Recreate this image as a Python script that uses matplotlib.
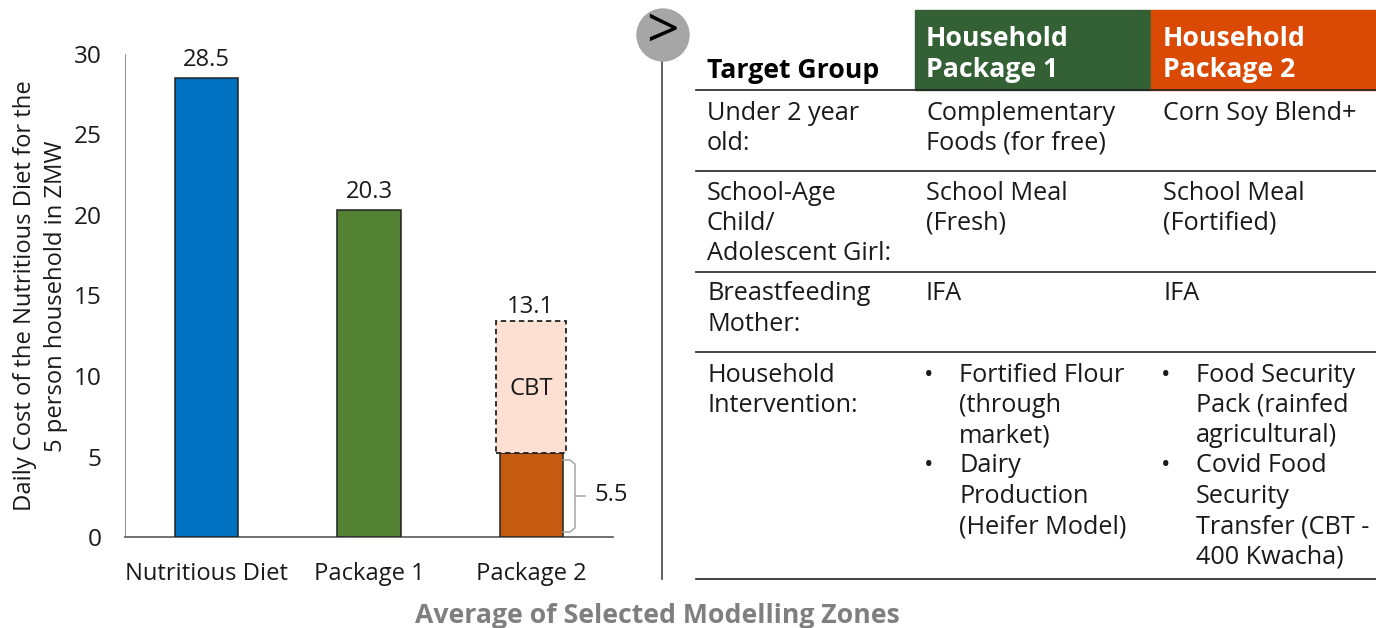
import matplotlib
matplotlib.use("Agg")
import matplotlib.pyplot as plt
from matplotlib.patches import Rectangle, Circle

plt.rcParams['font.family'] = ['Open Sans', 'DejaVu Sans']

W, H = 1376, 628
categories = ["Nutritious Diet", "Package 1", "Package 2"]
bar_values = [28.5, 20.3, 5.2]
bar_colors = ["#0070C0", "#548235", "#C55A11"]
bar_labels = ["28.5", "20.3"]
cbt_top = 13.4
cbt_label = "13.1"
base_label = "5.5"
yticks = [0, 5, 10, 15, 20, 25, 30]
ylabel = "Daily Cost of the Nutritious Diet for the\n5 person household in ZMW"
xlabel = "Average of Selected Modelling Zones"

header = ["Target Group", "Household\nPackage 1", "Household\nPackage 2"]
col_x = [707, 926, 1163]
rows = [
    (113, ["Under 2 year\nold:", "Complementary\nFoods (for free)", "Corn Soy Blend+"]),
    (193, ["School-Age\nChild/\nAdolescent Girl:", "School Meal\n(Fresh)", "School Meal\n(Fortified)"]),
    (294, ["Breastfeeding\nMother:", "IFA", "IFA"]),
    (375, ["Household\nIntervention:", None, None]),
]
bullets1 = [(375, "Fortified Flour\n(through\nmarket)"), (466, "Dairy\nProduction\n(Heifer Model)")]
bullets2 = [(375, "Food Security\nPack (rainfed\nagricultural)"), (466, "Covid Food\nSecurity\nTransfer (CBT -\n400 Kwacha)")]
rules_y = [90, 171, 272, 352, 579]

FS = 17.1
FT = 18.2
FB = 19.2
LH = 30.3
TXT = "#1a1a1a"

fig = plt.figure(figsize=(W / 100, H / 100), dpi=100)
L, R, T, B = 125, 613, 54, 537
ax = fig.add_axes([L / W, 1 - B / H, (R - L) / W, (B - T) / H])
x = range(3)
ax.bar(x, bar_values, width=0.39, color=bar_colors, edgecolor="#222222", linewidth=1.1, zorder=3)
ax.bar(1.995, cbt_top - bar_values[2], bottom=bar_values[2], width=0.43, color="#FDE0D2",
       edgecolor="#222222", linewidth=1.3, linestyle=(0, (3, 2)), zorder=4)
ax.set_xlim(-0.5, 2.5)
ax.set_ylim(0, 30)
ax.set_yticks(yticks)
ax.set_xticks(list(x), categories)
ax.tick_params(axis='both', length=0, labelsize=FS, labelcolor=TXT)
ax.tick_params(axis='x', pad=18)
ax.tick_params(axis='y', pad=17)
ax.tick_params(axis='y', labelsize=17.6)
for s in ("top", "right"):
    ax.spines[s].set_visible(False)
ax.spines["left"].set_color("#9a9a9a")
ax.spines["bottom"].set_color("#666666")
ax.spines["bottom"].set_linewidth(1.3)
for i, t in enumerate(bar_labels):
    ax.annotate(t, (i, bar_values[i]), xytext=(0, 4.5), textcoords="offset points",
                ha="center", va="bottom", fontsize=FS, color=TXT)
ax.annotate(cbt_label, (1.995, cbt_top), xytext=(0, 1.5), textcoords="offset points",
            ha="center", va="bottom", fontsize=FS, color=TXT, zorder=6)
ax.text(1.995, (bar_values[2] + cbt_top) / 2 - 0.1, "CBT", ha="center", va="center",
        fontsize=FS, color=TXT, zorder=6)

ov = fig.add_axes([0, 0, 1, 1], facecolor="none")
ov.set_xlim(0, W)
ov.set_ylim(H, 0)
ov.axis("off")

ov.text(25, 296, ylabel.split("\n")[0], rotation=90, ha="center", va="center", fontsize=FS, color=TXT)
ov.text(56, 296, ylabel.split("\n")[1], rotation=90, ha="center", va="center", fontsize=FS, color=TXT)
ov.text(657, 616, xlabel, ha="center", va="center", fontsize=FB, fontweight="bold", color="#7F7F7F")

ov.plot([563, 570, 575, 575, 585], [460, 460, 464, 496, 496], color="#A6A6A6", lw=1.1)
ov.plot([563, 570, 575, 575], [532, 532, 528, 496], color="#A6A6A6", lw=1.1)
ov.text(594, 495, base_label, ha="left", va="center", fontsize=FS, color=TXT)

ov.plot([662, 662], [60, 579], color="#333333", lw=1.1)
ov.add_patch(Circle((663, 35), 26, color="#A6A6A6", zorder=3))
ov.text(662.5, 33, ">", ha="center", va="center", fontsize=41, color="black", zorder=4)

ov.add_patch(Rectangle((915, 10), 236, 80, color="#336135"))
ov.add_patch(Rectangle((1151, 10), 225, 80, color="#DA4A04"))
for y in rules_y:
    ov.plot([696, 1376], [y, y], color="#222222", lw=1.2)


def lines(xp, y0, s, size=FT, color=TXT, fontweight="normal"):
    for i, ln in enumerate(s.split("\n")):
        ov.text(xp, y0 + i * LH, ln, ha="left", va="center", fontsize=size, color=color,
                fontweight=fontweight)


lines(col_x[0], 71, header[0], size=FB, color="black", fontweight="bold")
lines(col_x[1], 39.5, header[1], size=FB, color="white", fontweight="bold")
lines(col_x[2], 39.5, header[2], size=FB, color="white", fontweight="bold")
for y, cells in rows:
    for xp, c in zip(col_x, cells):
        if c:
            lines(xp, y, c)
for (bx, tx, items) in ((929, 959, bullets1), (1166, 1196, bullets2)):
    for y, s in items:
        ov.text(bx, y, "•", ha="center", va="center", fontsize=FT, color=TXT)
        lines(tx, y, s)

fig.savefig("out.png", dpi=100)
